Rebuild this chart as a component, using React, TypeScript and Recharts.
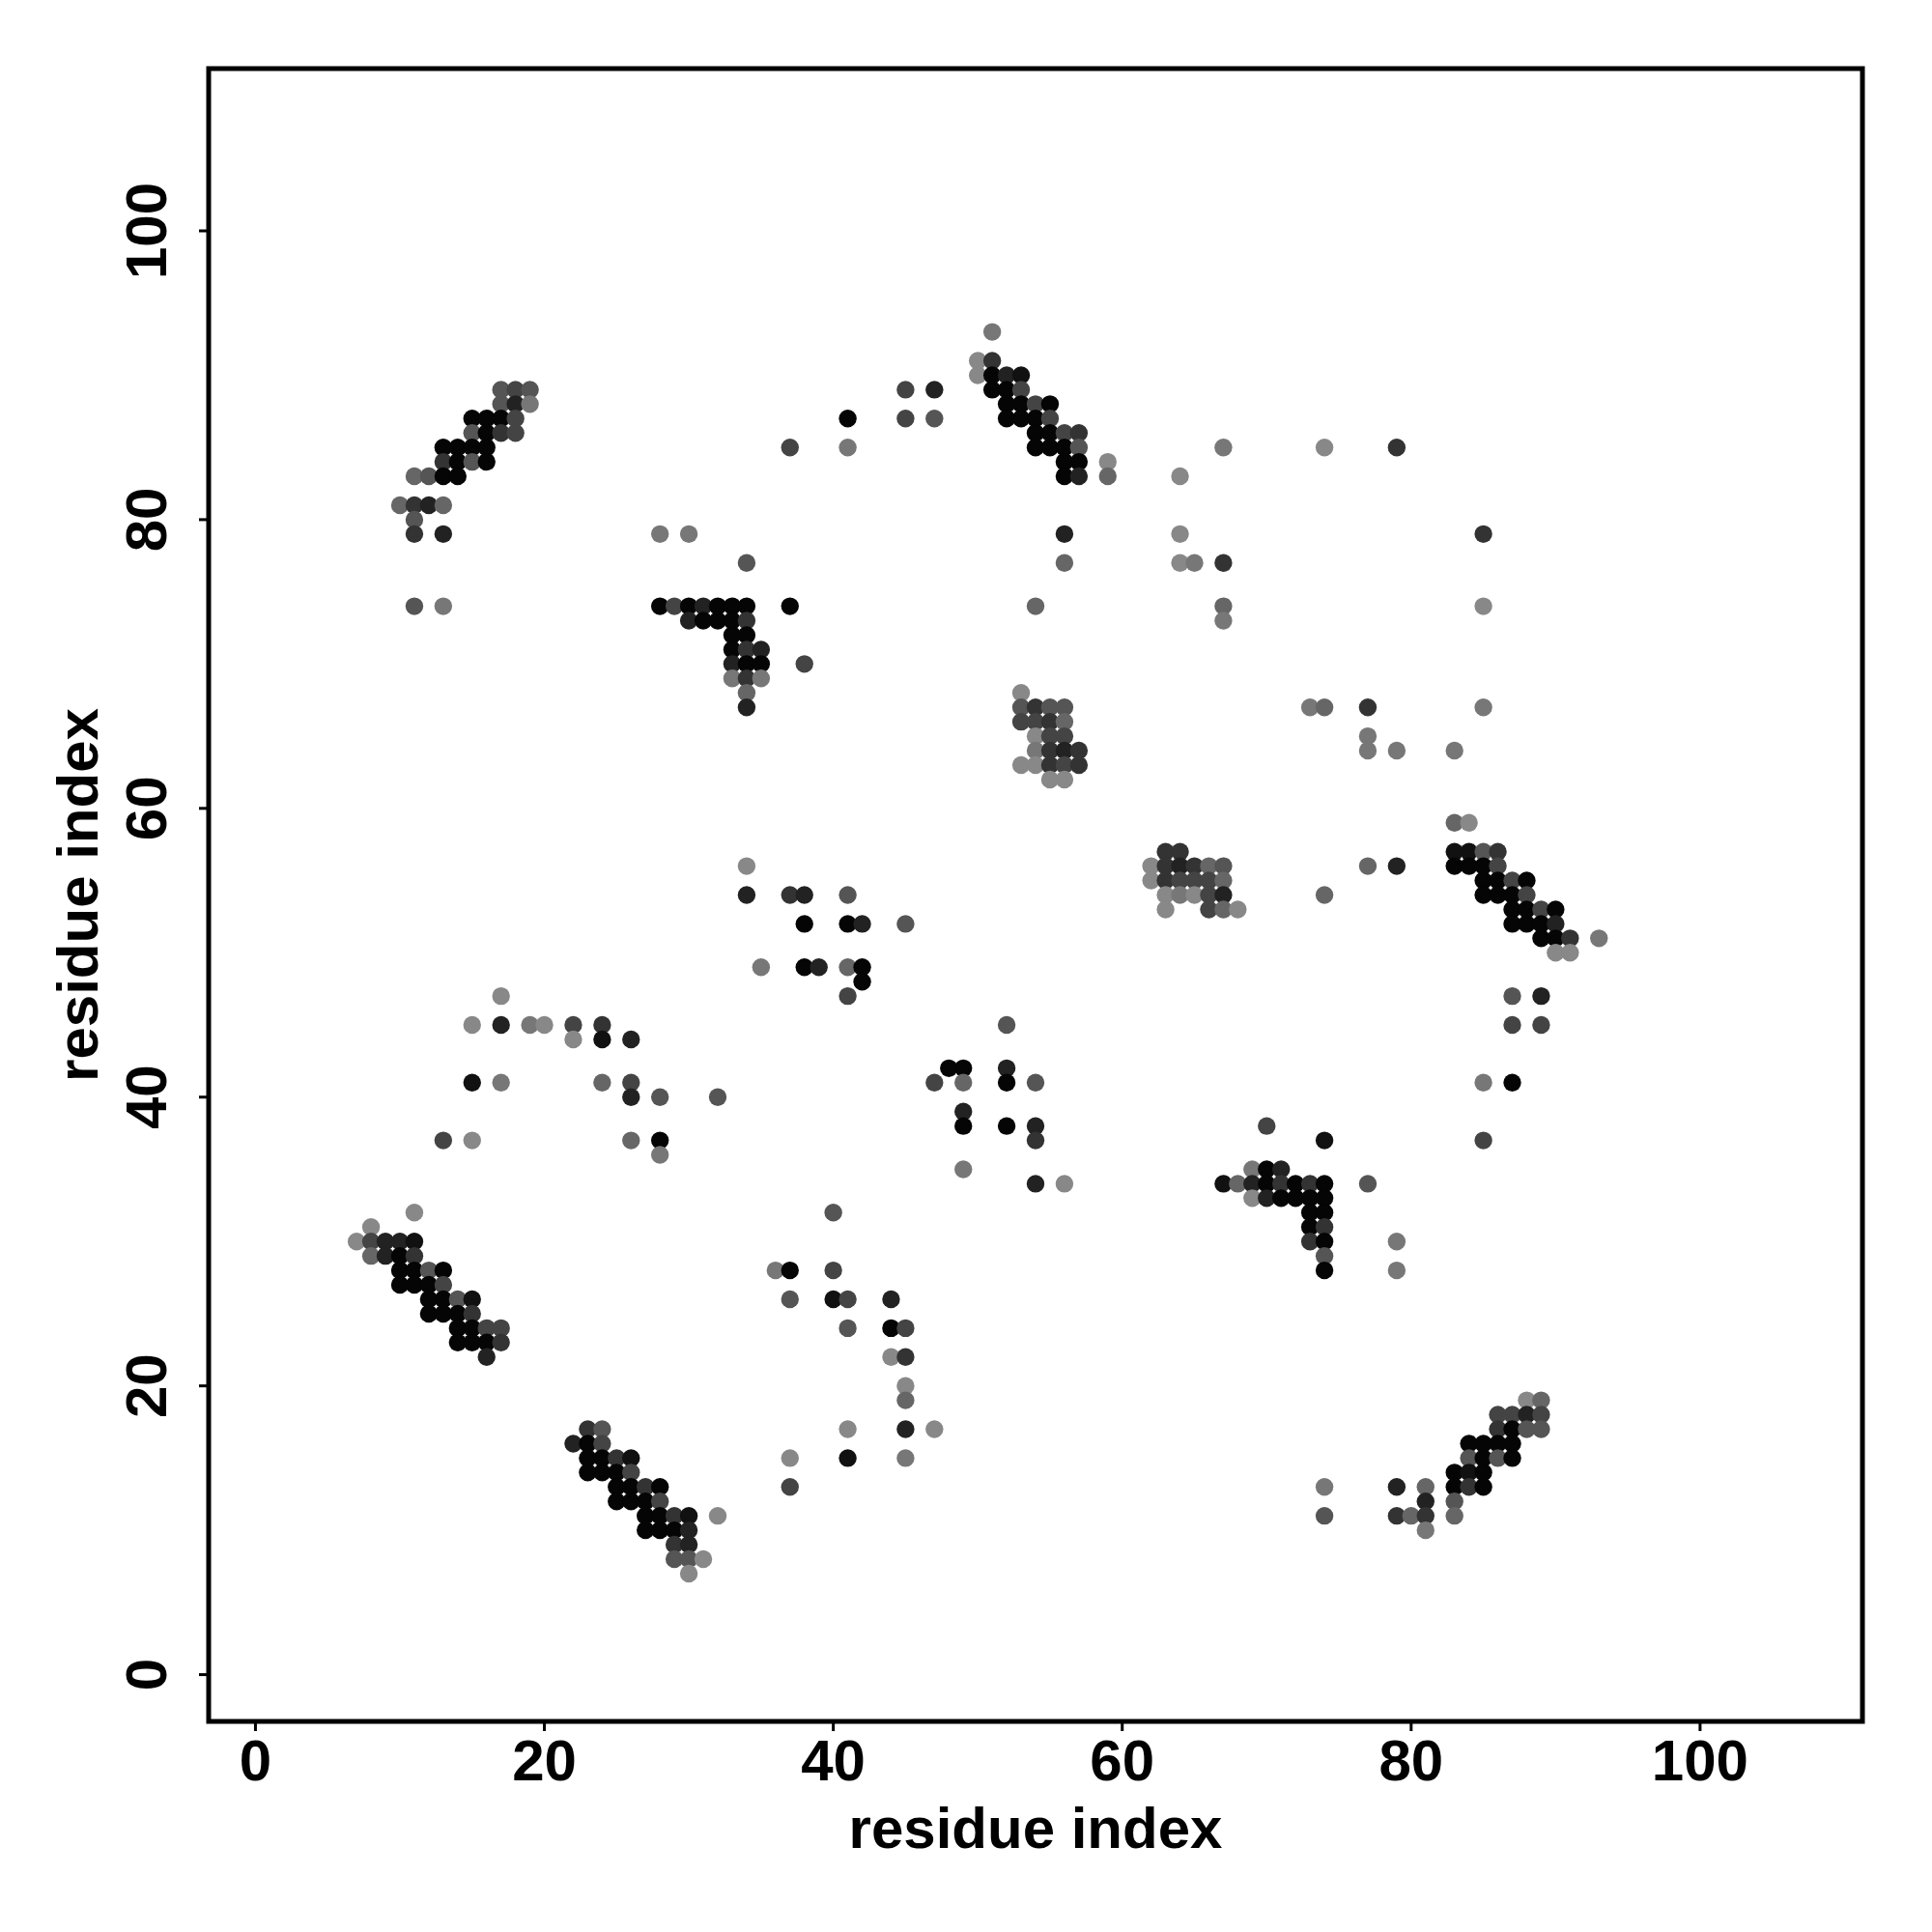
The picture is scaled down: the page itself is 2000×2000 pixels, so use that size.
import { ScatterChart, Scatter, XAxis, YAxis, ReferenceArea } from "recharts";

// [residue i, residue j, shade]  shade: 0 = black ... 8 = light grey
type Contact = [number, number, number];

const AXIS_MIN = -3.24;
const AXIS_MAX = 111.24;
const TICKS = [0, 20, 40, 60, 80, 100];
const FONT = '"Liberation Sans", Arial, Helvetica, sans-serif';

const strandTopLeft: Contact[] = [
  [17, 89, 5], [18, 89, 4], [19, 89, 5],
  [17, 88, 5], [18, 88, 2], [19, 88, 7],
  [15, 87, 0], [16, 87, 0], [17, 87, 0], [18, 87, 4],
  [15, 86, 5], [16, 86, 0], [17, 86, 3], [18, 86, 4],
  [13, 85, 0], [14, 85, 0], [15, 85, 0], [16, 85, 0],
  [13, 84, 3], [14, 84, 0], [15, 84, 5], [16, 84, 0],
  [11, 83, 6], [12, 83, 5], [13, 83, 0], [14, 83, 0],
  [10, 81, 6], [11, 81, 3], [12, 81, 2], [13, 81, 6],
  [11, 80, 5], [11, 79, 3], [13, 79, 2], [11, 74, 5], [13, 74, 7],
];

const cornerUpper: Contact[] = [
  [28, 79, 7], [30, 79, 7], [34, 77, 5],
  [28, 74, 0], [29, 74, 4], [30, 74, 0], [31, 74, 2], [32, 74, 0], [33, 74, 0], [34, 74, 0], [37, 74, 0],
  [30, 73, 2], [31, 73, 0], [32, 73, 0], [33, 73, 0], [34, 73, 3],
  [33, 72, 0], [34, 72, 0],
  [33, 71, 0], [34, 71, 3], [35, 71, 2],
  [33, 70, 2], [34, 70, 0], [35, 70, 0], [38, 70, 4],
  [33, 69, 7], [34, 69, 3], [35, 69, 7],
  [34, 68, 6], [34, 67, 2],
];

const strandTopMiddle: Contact[] = [
  [37, 85, 4], [41, 87, 0], [41, 85, 7], [45, 89, 4], [47, 89, 2], [45, 87, 4], [47, 87, 5],
  [51, 93, 7], [50, 91, 8], [51, 91, 3],
  [50, 90, 8], [51, 90, 0], [52, 90, 2], [53, 90, 1],
  [51, 89, 0], [52, 89, 0], [53, 89, 4],
  [52, 88, 0], [53, 88, 0], [54, 88, 4], [55, 88, 0],
  [52, 87, 0], [53, 87, 0], [54, 87, 0], [55, 87, 4],
  [54, 86, 0], [55, 86, 0], [56, 86, 4], [57, 86, 3],
  [54, 85, 0], [55, 85, 0], [56, 85, 0], [57, 85, 5],
  [56, 84, 0], [57, 84, 0], [59, 84, 8],
  [56, 83, 0], [57, 83, 2], [59, 83, 6],
  [56, 79, 2], [56, 77, 6], [54, 74, 6],
];

const sparseTopRight: Contact[] = [
  [64, 83, 8], [64, 79, 8], [64, 77, 8], [65, 77, 7], [67, 85, 7], [67, 77, 3], [67, 74, 6], [67, 73, 7],
  [74, 85, 8], [79, 85, 3], [85, 79, 3], [85, 74, 8],
  [73, 67, 7], [74, 67, 6], [77, 67, 3], [85, 67, 7], [77, 65, 7], [77, 64, 7], [79, 64, 7], [83, 64, 7],
];

const blockCentre: Contact[] = [
  [53, 68, 8],
  [53, 67, 5], [54, 67, 3], [55, 67, 5], [56, 67, 5],
  [53, 66, 4], [54, 66, 4], [55, 66, 3], [56, 66, 6],
  [54, 65, 8], [55, 65, 4], [56, 65, 4],
  [54, 64, 7], [55, 64, 3], [56, 64, 2], [57, 64, 3],
  [53, 63, 8], [54, 63, 8], [55, 63, 3], [56, 63, 4], [57, 63, 3],
  [55, 62, 8], [56, 62, 8],
];

const blockRight: Contact[] = [
  [63, 57, 3], [64, 57, 3],
  [62, 56, 8], [63, 56, 3], [64, 56, 2], [65, 56, 3], [66, 56, 6], [67, 56, 5],
  [62, 55, 8], [63, 55, 3], [64, 55, 4], [65, 55, 4], [66, 55, 4], [67, 55, 6],
  [63, 54, 8], [64, 54, 7], [65, 54, 8], [66, 54, 4], [67, 54, 2],
  [63, 53, 8], [66, 53, 4], [67, 53, 6], [68, 53, 8],
];

const strandRight: Contact[] = [
  [83, 59, 6], [84, 59, 8],
  [83, 57, 1], [84, 57, 1], [85, 57, 5], [86, 57, 3],
  [83, 56, 0], [84, 56, 0], [85, 56, 0], [86, 56, 4],
  [85, 55, 0], [86, 55, 0], [87, 55, 4], [88, 55, 0],
  [85, 54, 0], [86, 54, 0], [87, 54, 0], [88, 54, 4],
  [87, 53, 0], [88, 53, 0], [89, 53, 4], [90, 53, 0],
  [87, 52, 0], [88, 52, 0], [89, 52, 0], [90, 52, 2],
  [89, 51, 0], [90, 51, 0], [91, 51, 3], [93, 51, 7],
  [90, 50, 8], [91, 50, 8],
  [77, 56, 6], [79, 56, 2], [74, 54, 6],
  [87, 47, 5], [89, 47, 2], [87, 45, 4], [89, 45, 4], [85, 41, 7], [87, 41, 0], [85, 37, 4],
];

const sparseMiddle: Contact[] = [
  [34, 56, 8], [34, 54, 2], [37, 54, 3], [38, 54, 2], [41, 54, 5],
  [38, 52, 0], [41, 52, 0], [42, 52, 2], [45, 52, 5],
  [35, 49, 7], [38, 49, 0], [39, 49, 2], [41, 49, 6], [42, 49, 0], [42, 48, 0], [41, 47, 4],
  [52, 45, 5], [48, 42, 0], [49, 42, 0], [52, 42, 2],
  [47, 41, 4], [49, 41, 6], [52, 41, 0], [54, 41, 5],
  [49, 39, 2], [49, 38, 0], [52, 38, 0], [54, 38, 2], [54, 37, 3], [49, 35, 7], [54, 34, 2], [56, 34, 8],
];

const sparseLeft: Contact[] = [
  [17, 47, 8],
  [15, 45, 8], [17, 45, 2], [19, 45, 7], [20, 45, 8], [22, 45, 4], [24, 45, 3],
  [22, 44, 8], [24, 44, 1], [26, 44, 2],
  [15, 41, 1], [17, 41, 7], [24, 41, 6], [26, 41, 4],
  [26, 40, 2], [28, 40, 5], [32, 40, 5],
  [13, 37, 4], [15, 37, 8], [26, 37, 6], [28, 37, 0], [28, 36, 7],
];

const cornerLower: Contact[] = [
  [70, 38, 4], [74, 37, 1],
  [69, 35, 7], [70, 35, 0], [71, 35, 2],
  [67, 34, 1], [68, 34, 6], [69, 34, 2], [70, 34, 0], [71, 34, 3], [72, 34, 0], [73, 34, 3], [74, 34, 0], [77, 34, 5],
  [69, 33, 8], [70, 33, 2], [71, 33, 0], [72, 33, 0], [73, 33, 0], [74, 33, 0],
  [73, 32, 0], [74, 32, 0], [73, 31, 0], [74, 31, 3],
  [73, 30, 3], [74, 30, 0], [79, 30, 7], [74, 29, 5], [74, 28, 0], [79, 28, 7],
];

const strandBottomLeft: Contact[] = [
  [11, 32, 8], [8, 31, 8],
  [7, 30, 8], [8, 30, 4], [9, 30, 2], [10, 30, 2], [11, 30, 1],
  [8, 29, 6], [9, 29, 2], [10, 29, 0], [11, 29, 3],
  [10, 28, 0], [11, 28, 0], [12, 28, 5], [13, 28, 0],
  [10, 27, 0], [11, 27, 0], [12, 27, 0], [13, 27, 4],
  [12, 26, 0], [13, 26, 0], [14, 26, 5], [15, 26, 1],
  [12, 25, 0], [13, 25, 0], [14, 25, 0], [15, 25, 3],
  [14, 24, 0], [15, 24, 0], [16, 24, 4], [17, 24, 4],
  [14, 23, 0], [15, 23, 0], [16, 23, 0], [17, 23, 3],
  [16, 22, 2],
];

const strandBottom: Contact[] = [
  [23, 17, 3], [24, 17, 5],
  [22, 16, 2], [23, 16, 0], [24, 16, 4],
  [23, 15, 0], [24, 15, 0], [25, 15, 3], [26, 15, 1],
  [23, 14, 0], [24, 14, 0], [25, 14, 0], [26, 14, 4],
  [25, 13, 0], [26, 13, 0], [27, 13, 3], [28, 13, 0],
  [25, 12, 0], [26, 12, 0], [27, 12, 0], [28, 12, 4],
  [27, 11, 0], [28, 11, 0], [29, 11, 3], [30, 11, 1], [32, 11, 8],
  [27, 10, 0], [28, 10, 0], [29, 10, 0], [30, 10, 2],
  [29, 9, 3], [30, 9, 2],
  [29, 8, 5], [30, 8, 5], [31, 8, 8],
  [30, 7, 8],
];

const sparseLower: Contact[] = [
  [40, 32, 5], [36, 28, 7], [37, 28, 0], [40, 28, 4],
  [37, 26, 5], [40, 26, 1], [41, 26, 4], [44, 26, 2],
  [41, 24, 5], [44, 24, 0], [45, 24, 4], [44, 22, 8], [45, 22, 3],
  [45, 20, 8], [45, 19, 6], [41, 17, 8], [45, 17, 2], [47, 17, 8],
  [37, 15, 8], [41, 15, 1], [45, 15, 7], [37, 13, 4],
];

const strandBottomRight: Contact[] = [
  [74, 13, 7], [74, 11, 5], [79, 13, 2], [79, 11, 3], [80, 11, 6],
  [81, 13, 6], [81, 12, 2], [81, 11, 3], [81, 10, 7],
  [88, 19, 8], [89, 19, 6],
  [86, 18, 4], [87, 18, 4], [88, 18, 2], [89, 18, 4],
  [86, 17, 3], [87, 17, 0], [88, 17, 5], [89, 17, 5],
  [84, 16, 0], [85, 16, 0], [86, 16, 0], [87, 16, 0],
  [84, 15, 5], [85, 15, 0], [86, 15, 5], [87, 15, 0],
  [83, 14, 0], [84, 14, 1], [85, 14, 0],
  [83, 13, 0], [84, 13, 3], [85, 13, 0],
  [83, 12, 5], [83, 11, 6],
];

const contacts = [
  ...strandTopLeft, ...cornerUpper, ...strandTopMiddle, ...sparseTopRight,
  ...blockCentre, ...blockRight, ...strandRight, ...sparseMiddle, ...sparseLeft,
  ...cornerLower, ...strandBottomLeft, ...strandBottom, ...sparseLower, ...strandBottomRight,
].map(([x, y, s]) => ({ x, y, s }));

function shade(s: number) {
  const v = Math.max(5, s * 17);
  return `rgb(${v},${v},${v})`;
}

function Dot(props: any) {
  if (props.cx == null || props.cy == null) return null;
  return <circle cx={props.cx} cy={props.cy} r={9.2} fill={shade(props.payload.s)} />;
}

function XTick({ x, y, payload }: any) {
  return (
    <text x={x} y={y + 49} textAnchor="middle" fontSize={60} fontWeight="bold" fontFamily={FONT} fill="#000">
      {payload.value}
    </text>
  );
}

function YTick({ y, payload }: any) {
  return (
    <text
      x={172}
      y={y}
      transform={`rotate(-90 172 ${y})`}
      textAnchor="middle"
      fontSize={60}
      fontWeight="bold"
      fontFamily={FONT}
      fill="#000"
    >
      {payload.value}
    </text>
  );
}

export default function App() {
  return (
    <div style={{ position: "absolute", left: 0, top: 0, width: 2000, height: 2000, background: "#fff" }}>
      <ScatterChart width={2000} height={2000} margin={{ top: 71, right: 72, bottom: 0, left: 0 }}>
        <XAxis
          dataKey="x"
          type="number"
          domain={[AXIS_MIN, AXIS_MAX]}
          ticks={TICKS}
          interval={0}
          allowDataOverflow
          height={218}
          axisLine={false}
          tickSize={10}
          tickLine={{ stroke: "#000", strokeWidth: 3 }}
          tick={<XTick />}
          label={{
            value: "residue index",
            position: "insideBottom",
            offset: 87,
            fill: "#000",
            fontSize: 60,
            fontWeight: "bold",
            fontFamily: FONT,
          }}
        />
        <YAxis
          dataKey="y"
          type="number"
          domain={[AXIS_MIN, AXIS_MAX]}
          ticks={TICKS}
          interval={0}
          allowDataOverflow
          width={216}
          axisLine={false}
          tickSize={10}
          tickLine={{ stroke: "#000", strokeWidth: 3 }}
          tick={<YTick />}
          label={{
            value: "residue index",
            angle: -90,
            position: "insideLeft",
            offset: 80,
            fill: "#000",
            fontSize: 60,
            fontWeight: "bold",
            fontFamily: FONT,
            style: { textAnchor: "middle" },
          }}
        />
        <ReferenceArea
          x1={AXIS_MIN}
          x2={AXIS_MAX}
          y1={AXIS_MIN}
          y2={AXIS_MAX}
          fill="none"
          stroke="#000"
          strokeWidth={5}
          ifOverflow="visible"
        />
        <Scatter data={contacts} shape={<Dot />} isAnimationActive={false} />
      </ScatterChart>
    </div>
  );
}
